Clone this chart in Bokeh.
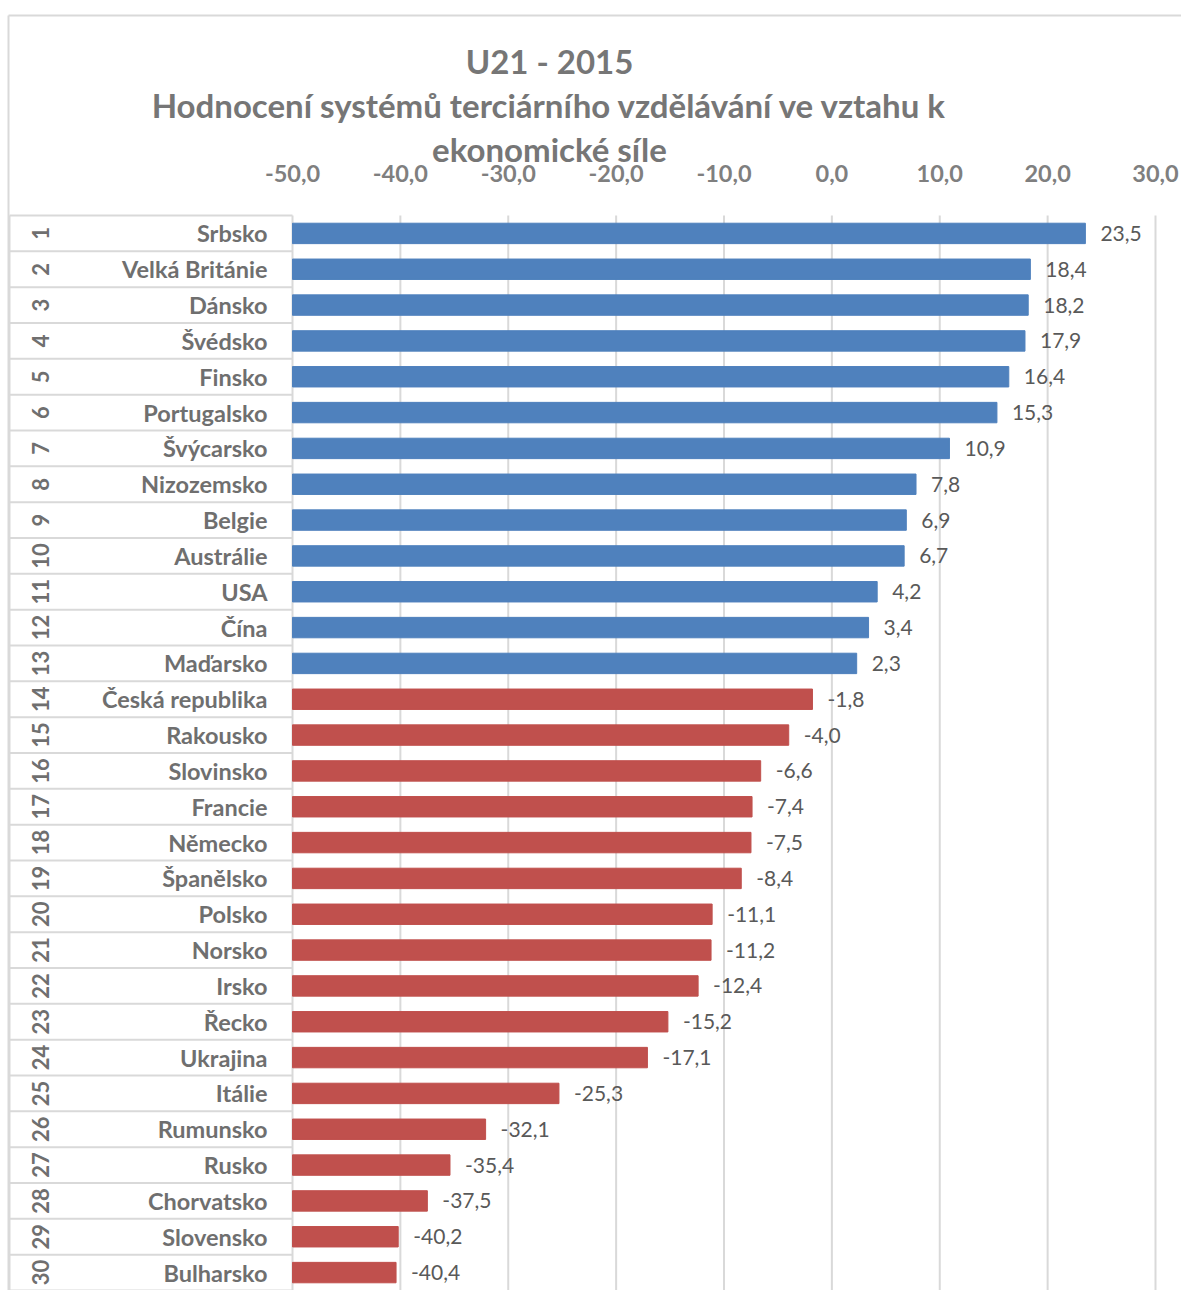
import math
from bokeh.plotting import figure
from bokeh.models import Range1d, ColumnDataSource
from bokeh.core.properties import value
from bokeh.embed import file_html
from bokeh.resources import INLINE

# ---------------- data ----------------
title_lines = ["U21 - 2015",
               "Hodnocení systémů terciárního vzdělávání ve vztahu k",
               "ekonomické síle"]
countries = ["Srbsko", "Velká Británie", "Dánsko", "Švédsko", "Finsko", "Portugalsko",
             "Švýcarsko", "Nizozemsko", "Belgie", "Austrálie", "USA", "Čína", "Maďarsko",
             "Česká republika", "Rakousko", "Slovinsko", "Francie", "Německo", "Španělsko",
             "Polsko", "Norsko", "Irsko", "Řecko", "Ukrajina", "Itálie", "Rumunsko",
             "Rusko", "Chorvatsko", "Slovensko", "Bulharsko"]
values = [23.5, 18.4, 18.2, 17.9, 16.4, 15.3, 10.9, 7.8, 6.9, 6.7, 4.2, 3.4, 2.3,
          -1.8, -4.0, -6.6, -7.4, -7.5, -8.4, -11.1, -11.2, -12.4, -15.2, -17.1,
          -25.3, -32.1, -35.4, -37.5, -40.2, -40.4]
ranks = list(range(1, 31))
tick_values = [-50, -40, -30, -20, -10, 0, 10, 20, 30]
tick_labels = ["-50,0", "-40,0", "-30,0", "-20,0", "-10,0", "0,0", "10,0", "20,0", "30,0"]
axis_min = -50

# ---------------- layout helpers ----------------
W, H = 1181, 1290
X0_PX, X1_PX = 292, 1155            # pixel positions of -50 and 30
PX_PER_UNIT = (X1_PX - X0_PX) / (tick_values[-1] - tick_values[0])
ROW_PX = (H - 215) / len(countries)  # table starts at y=215
def px_x(px):
    return axis_min + (px - X0_PX) / PX_PER_UNIT
def px_y(py):
    return 0.5 - (215 - py) / ROW_PX

x_range = Range1d(px_x(0), px_x(W))
y_range = Range1d(px_y(H), px_y(0))

p = figure(width=W, height=H, x_range=x_range, y_range=y_range,
           output_backend="svg", toolbar_location=None,
           min_border=0, x_axis_type=None, y_axis_type=None)
p.outline_line_color = None
p.xgrid.visible = False
p.ygrid.visible = False
p.background_fill_color = "white"
p.border_fill_color = "white"

FONT = "Lato"
GRID_C = "#d9d9d9"

# outer chart border
p.segment(x0=[px_x(8), px_x(8)], y0=[px_y(15), px_y(15)],
          x1=[px_x(W + 5), px_x(8)], y1=[px_y(15), px_y(H + 5)],
          line_color=GRID_C, line_width=2)

# vertical gridlines (only in the plot area)
top_row = ranks[0] - 0.5
bot_row = ranks[-1] + 0.5
p.segment(x0=tick_values, x1=tick_values,
          y0=[top_row] * len(tick_values), y1=[bot_row + 1] * len(tick_values),
          line_color=GRID_C, line_width=2)

# label table: horizontal row separators and left border
edges = [r - 0.5 for r in ranks] + [bot_row]
p.segment(x0=[px_x(9)] * len(edges), x1=[axis_min] * len(edges),
          y0=edges, y1=edges, line_color=GRID_C, line_width=2)
p.segment(x0=[px_x(9)], x1=[px_x(9)], y0=[top_row], y1=[bot_row + 1],
          line_color=GRID_C, line_width=2)

# bars
colors = ["#4F81BD" if v >= 0 else "#C0504D" for v in values]
src = ColumnDataSource(dict(
    y=ranks, right=values, left=[axis_min] * len(values), color=colors,
    country=countries, rank=[str(r) for r in ranks],
    vlabel=[f"{v:.1f}".replace(".", ",") for v in values],
))
p.hbar(y="y", left="left", right="right", height=0.57, source=src,
       fill_color="color", line_color="color", line_width=1)

# value labels
p.text(x="right", y="y", text="vlabel", source=src, x_offset=15,
       text_font=value(FONT), text_font_size="21px", text_color="#595959",
       text_align="left", text_baseline="middle")

# country labels
p.text(x=px_x(267), y="y", text="country", source=src,
       text_font=value(FONT), text_font_style="bold", text_font_size="23.5px",
       text_color="#6f6f6f", text_align="right", text_baseline="middle")

# rank labels (rotated)
p.text(x=px_x(40), y="y", text="rank", source=src, angle=math.pi / 2,
       text_font=value(FONT), text_font_style="bold", text_font_size="22px",
       text_color="#6f6f6f", text_align="center", text_baseline="middle")

# tick labels on top
p.text(x=tick_values, y=[px_y(173)] * len(tick_values), text=tick_labels,
       text_font=value(FONT), text_font_style="bold", text_font_size="23.5px",
       text_color="#7f7f7f", text_align="center", text_baseline="middle")

# title
p.text(x=[px_x(549)] * 3, y=[px_y(60), px_y(104), px_y(148)], text=title_lines,
       text_font=value(FONT), text_font_style="bold", text_font_size="33px",
       text_color="#767676", text_align="center", text_baseline="middle")

open("out.html", "w").write(file_html(p, INLINE))
